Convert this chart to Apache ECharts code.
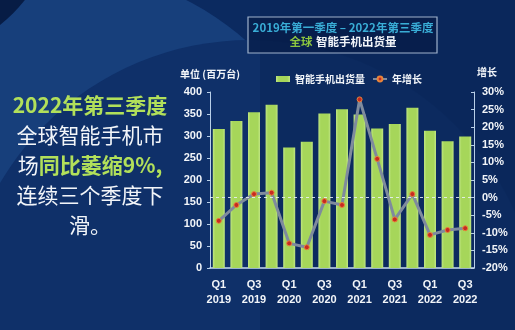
<!DOCTYPE html>
<html>
<head>
<meta charset="utf-8">
<script src="https://cdn.jsdelivr.net/npm/echarts@6/dist/echarts.min.js"></script>
<style>
  html, body { margin: 0; padding: 0; background: #0b2a60; }
  #chart { width: 515px; height: 330px; }
</style>
</head>
<body>
<div id="chart"></div>
<script>
// Quarterly global smartphone shipments, Q1 2019 – Q3 2022
const quarters = ['Q1','Q2','Q3','Q4','Q1','Q2','Q3','Q4','Q1','Q2','Q3','Q4','Q1','Q2','Q3'];
const years    = ['2019','2019','2019','2019','2020','2020','2020','2020','2021','2021','2021','2021','2022','2022','2022'];
// Shipments, millions of units
const shipments = [316, 334, 354, 371, 274, 287, 351, 361, 349, 317, 327, 364, 312, 288, 299];
// Year-over-year growth, %
const yoyGrowth = [-6.6, -2.1, 1.0, 1.4, -13.0, -14.1, -1.0, -2.1, 27.9, 11.0, -6.2, 1.0, -10.6, -9.2, -8.7];
// Axis ticks
const leftTicks  = { min: 0, max: 400, step: 50 };
const rightTicks = { min: -20, max: 30, step: 5 };

const categories = quarters.map((q, i) => q + '\n' + years[i]);

const GREEN = '#b2e05a';
const WHITE = '#f2f5f9';
const CJK = '"Noto Sans CJK SC", "Noto Sans", sans-serif';
const NARROW = '"Liberation Sans Narrow", "Liberation Sans", "Noto Sans", sans-serif';

// centred text helper for the graphic layer
function label(x, y, style) {
  return { type: 'text', z: 6, x: x, y: y,
    style: Object.assign({ align: 'center', verticalAlign: 'middle' }, style) };
}

const chart = echarts.init(document.getElementById('chart'), null, { renderer: 'canvas' });

const option = {
  backgroundColor: '#0b2a60',
  animation: false,
  graphic: [
    // backdrop shapes
    { type: 'circle', z: -5, silent: true, shape: { cx: 60, cy: 250, r: 280 }, style: { fill: '#173f7b' } },
    { type: 'circle', z: -4, silent: true, shape: { cx: 250, cy: 330, r: 290 }, style: { fill: '#0f3069' } },
    { type: 'circle', z: -3, silent: true, shape: { cx: -100, cy: -100, r: 160 }, style: { fill: '#071c45' } },
    { type: 'rect', z: -3, silent: true, shape: { x: 260, y: 0, width: 255, height: 330 }, style: { fill: '#0a2659', opacity: 0.6 } },

    // headline box
    { type: 'rect', z: 5, shape: { x: 248, y: 17, width: 189, height: 36 },
      style: { fill: 'rgba(6,24,64,0.55)', stroke: '#9fb2cc', lineWidth: 1.2 } },
    label(343, 28, { text: '2019年第一季度 – 2022年第三季度', fill: '#39add6', font: 'bold 11.5px ' + CJK }),
    label(343, 42, {
      text: '{g|全球} {w|智能手机出货量}',
      rich: {
        g: { fill: '#8cc63f', font: 'bold 11.5px ' + CJK },
        w: { fill: WHITE, font: 'bold 11.5px ' + CJK }
      } }),

    // axis captions
    label(210, 74, { text: '单位 (百万台)', fill: WHITE, font: 'bold 10px ' + CJK }),
    label(487, 72, { text: '增长', fill: WHITE, font: 'bold 10px ' + CJK }),

    // side note
    label(90, 105, { text: '2022年第三季度', fill: GREEN, font: 'bold 21px ' + CJK }),
    label(90, 135, { text: '全球智能手机市', fill: WHITE, font: '21px ' + CJK }),
    label(90, 165, {
      text: '{w|场}{g|同比萎缩9%,}',
      rich: {
        w: { fill: WHITE, font: '21px ' + CJK },
        g: { fill: GREEN, font: 'bold 21px ' + CJK }
      } }),
    label(90, 195, { text: '连续三个季度下', fill: WHITE, font: '21px ' + CJK }),
    label(90, 225, { text: '滑。', fill: WHITE, font: '21px ' + CJK })
  ],
  legend: {
    left: 271, top: 69,
    itemWidth: 14, itemHeight: 6, itemGap: 7,
    textStyle: { color: WHITE, fontSize: 10, fontWeight: 'bold', fontFamily: CJK },
    data: [
      { name: '智能手机出货量', icon: 'rect' },
      { name: '年增长' }
    ]
  },
  grid: { left: 210, right: 41, top: 92, bottom: 62 },
  xAxis: {
    type: 'category',
    data: categories,
    boundaryGap: true,
    axisLine: { lineStyle: { color: '#c6dcf2', width: 1.5 } },
    axisTick: { show: false },
    axisLabel: {
      interval: 1, color: WHITE, fontSize: 11, fontWeight: 'bold',
      fontFamily: NARROW, lineHeight: 15, margin: 9
    }
  },
  yAxis: [
    {
      type: 'value', min: leftTicks.min, max: leftTicks.max, interval: leftTicks.step,
      axisLine: { show: true, lineStyle: { color: '#b8cfe8', width: 1 } },
      axisTick: { show: true, length: 3, lineStyle: { color: '#b8cfe8' } },
      axisLabel: { color: WHITE, fontSize: 11, fontWeight: 'bold', fontFamily: NARROW, margin: 8 },
      splitLine: { show: false }
    },
    {
      type: 'value', min: rightTicks.min, max: rightTicks.max, interval: rightTicks.step,
      position: 'right',
      axisLine: { show: true, lineStyle: { color: '#b8cfe8', width: 1 } },
      axisTick: { show: true, length: 3, inside: true, lineStyle: { color: '#b8cfe8' } },
      axisLabel: { color: WHITE, fontSize: 11, fontWeight: 'bold', fontFamily: NARROW, margin: 8,
        formatter: v => v + '%' },
      splitLine: { show: false }
    }
  ],
  series: [
    {
      name: '智能手机出货量',
      type: 'bar',
      yAxisIndex: 0,
      data: shipments,
      barWidth: 12,
      itemStyle: {
        color: new echarts.graphic.LinearGradient(0, 0, 1, 0, [
          { offset: 0, color: '#c0e684' },
          { offset: 0.2, color: '#a6d65a' },
          { offset: 0.8, color: '#a6d65a' },
          { offset: 1, color: '#c0e684' }
        ])
      }
    },
    {
      name: '年增长',
      type: 'line',
      yAxisIndex: 1,
      data: yoyGrowth,
      z: 4,
      symbol: 'circle',
      symbolSize: 5,
      lineStyle: { color: '#7f8b9d', width: 3 },
      itemStyle: { color: '#c62a22', borderColor: '#e8843a', borderWidth: 1 },
      markLine: {
        silent: true,
        symbol: 'none',
        label: { show: false },
        lineStyle: { color: 'rgba(235,242,250,0.85)', type: [3, 3], width: 1 },
        data: [{ yAxis: 0 }]
      }
    }
  ]
};

chart.setOption(option);
</script>
</body>
</html>
